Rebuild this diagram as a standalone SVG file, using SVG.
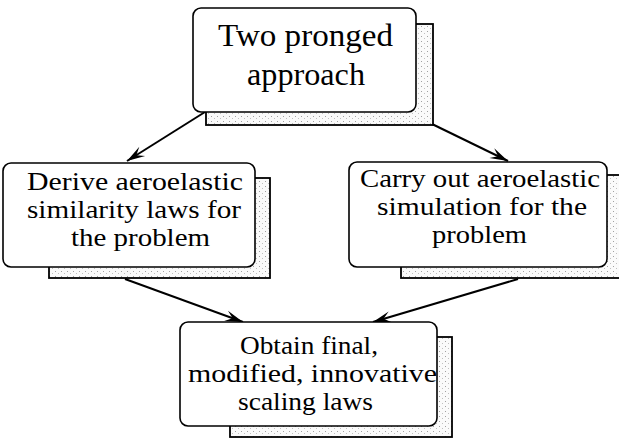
<svg xmlns="http://www.w3.org/2000/svg" width="619" height="441" viewBox="0 0 619 441">
  <defs>
    <pattern id="stip" width="6" height="5" patternUnits="userSpaceOnUse">
      <rect width="6" height="5" fill="#fafafa"/>
      <rect x="1" y="1" width="1" height="1" fill="#a0a0a0"/>
      <rect x="4" y="3" width="1" height="1" fill="#c0c0c0"/>
    </pattern>
    <marker id="ah" markerWidth="20" markerHeight="12" viewBox="-19 -6 20 12" refX="0" refY="0" orient="auto" markerUnits="userSpaceOnUse">
      <path d="M0,0 L-18,-5.5 L-11,0 L-18,5.5 Z" fill="#000"/>
    </marker>
  </defs>
  <style>
    .shadow { fill: url(#stip); stroke: #000; stroke-width: 1.8; }
    .box { fill: #fff; stroke: #000; stroke-width: 1.6; }
    .t { font-family: "Liberation Serif", "Times New Roman", serif; font-size: 25px; fill: #000; text-anchor: start; }
    .big { font-size: 32px; }
    .conn { stroke: #000; stroke-width: 2; fill: none; marker-end: url(#ah); }
  </style>

  <g id="connectors">
    <line class="conn" x1="205" y1="112" x2="127" y2="161"/>
    <line class="conn" x1="432" y1="124" x2="508" y2="161"/>
    <line class="conn" x1="125" y1="279" x2="243" y2="322"/>
    <line class="conn" x1="518" y1="279" x2="373" y2="322"/>
  </g>

  <g id="node-top">
    <rect class="shadow" x="206" y="24" width="227" height="101"/>
    <rect class="box" x="193" y="8" width="223" height="104" rx="8"/>
    <text class="t big" x="218" y="46" textLength="175" lengthAdjust="spacingAndGlyphs">Two pronged</text>
    <text class="t big" x="247" y="85" textLength="118" lengthAdjust="spacingAndGlyphs">approach</text>
  </g>

  <g id="node-left">
    <rect class="shadow" x="49" y="178" width="221" height="100"/>
    <rect class="box" x="3" y="163" width="252" height="104" rx="8"/>
    <text class="t" x="27" y="190" textLength="216" lengthAdjust="spacingAndGlyphs">Derive aeroelastic</text>
    <text class="t" x="27" y="218" textLength="214" lengthAdjust="spacingAndGlyphs">similarity laws for</text>
    <text class="t" x="71" y="246" textLength="139" lengthAdjust="spacingAndGlyphs">the problem</text>
  </g>

  <g id="node-right">
    <rect class="shadow" x="401" y="175" width="225" height="103"/>
    <rect class="box" x="349" y="162" width="258" height="105" rx="8"/>
    <text class="t" x="360" y="187" textLength="240" lengthAdjust="spacingAndGlyphs">Carry out aeroelastic</text>
    <text class="t" x="377" y="215" textLength="210" lengthAdjust="spacingAndGlyphs">simulation for the</text>
    <text class="t" x="432" y="243" textLength="95" lengthAdjust="spacingAndGlyphs">problem</text>
  </g>

  <g id="node-bottom">
    <rect class="shadow" x="230" y="337" width="222" height="100"/>
    <rect class="box" x="180" y="322" width="257" height="104" rx="8"/>
    <text class="t" x="240" y="354" textLength="138" lengthAdjust="spacingAndGlyphs">Obtain final,</text>
    <text class="t" x="188" y="382" textLength="249" lengthAdjust="spacingAndGlyphs">modified, innovative</text>
    <text class="t" x="238" y="410" textLength="135" lengthAdjust="spacingAndGlyphs">scaling laws</text>
  </g>
</svg>
